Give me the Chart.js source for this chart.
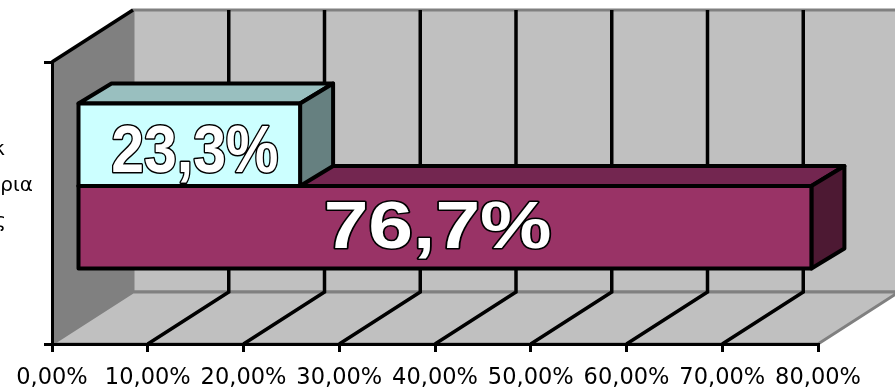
<!DOCTYPE html>
<html>
<head>
<meta charset="utf-8">
<style>
  html, body { margin: 0; padding: 0; background: #fff; overflow: hidden; }
  canvas { display: block; }
</style>
<script src="https://cdn.jsdelivr.net/npm/chart.js@4/dist/chart.umd.min.js"></script>
</head>
<body>
<canvas id="chart" width="895" height="391"></canvas>
<script>
const categories = [['Ο κ', 'Κριτήρια', 'τος']];
const shareLow = [23.3];
const shareHigh = [76.7];
const xTicks = [0, 10, 20, 30, 40, 50, 60, 70, 80];

const FONT_AXIS = 'DejaVu Sans';
const FONT_LABEL = 'Liberation Sans';

// depth of the fake 3D box and of the bars inside it
const WALL_DX = 81;
const WALL_DY = 52;
const BAR_DX = 25;
const BAR_DY = 17;
const BAR_DEPTH_X = 33;
const BAR_DEPTH_Y = 20;

function fillPoly(ctx, points, fill, stroke, width) {
  ctx.beginPath();
  points.forEach(([x, y], i) => (i ? ctx.lineTo(x, y) : ctx.moveTo(x, y)));
  ctx.closePath();
  if (fill) {
    ctx.fillStyle = fill;
    ctx.fill();
  }
  if (stroke) {
    ctx.strokeStyle = stroke;
    ctx.lineWidth = width;
    ctx.lineJoin = 'round';
    ctx.stroke();
  }
}

function frontFace(bar) {
  return {
    left: bar.base + BAR_DX,
    right: bar.x + BAR_DX,
    top: bar.y - bar.height / 2 - BAR_DY,
    bottom: bar.y + bar.height / 2 - BAR_DY,
  };
}

const box3d = {
  id: 'box3d',
  beforeDraw(chart) {
    const { ctx, chartArea: a, scales: { x } } = chart;
    const backLeft = a.left + WALL_DX;
    const backRight = a.right + WALL_DX;
    const backTop = a.top - WALL_DY;
    const backBottom = a.bottom - WALL_DY;

    ctx.save();
    fillPoly(ctx, [[backLeft, backTop], [backRight, backTop], [backRight, backBottom], [backLeft, backBottom]], '#c0c0c0', '#808080', 3);
    fillPoly(ctx, [[a.left, a.bottom], [backLeft, backBottom], [backRight, backBottom], [a.right, a.bottom]], '#c0c0c0', '#808080', 3);
    fillPoly(ctx, [[a.left, a.top], [backLeft, backTop], [backLeft, backBottom], [a.left, a.bottom]], '#808080');

    // grid runs over the floor and up the back wall
    ctx.strokeStyle = '#000';
    ctx.lineWidth = 3.5;
    ctx.lineJoin = 'miter';
    xTicks.slice(1, -1).forEach(tick => {
      const px = x.getPixelForValue(tick);
      ctx.beginPath();
      ctx.moveTo(px, a.bottom);
      ctx.lineTo(px + WALL_DX, backBottom);
      ctx.lineTo(px + WALL_DX, backTop);
      ctx.stroke();
    });

    // top edge of the side wall
    ctx.beginPath();
    ctx.moveTo(a.left, a.top);
    ctx.lineTo(backLeft, backTop);
    ctx.stroke();
    ctx.restore();
  },
};

const bars3d = {
  id: 'bars3d',
  beforeDatasetDraw(chart, args) {
    const { ctx } = chart;
    const dataset = chart.data.datasets[args.index];
    const { left, right, top, bottom } = frontFace(args.meta.data[0]);

    ctx.save();
    fillPoly(ctx, [[left, top], [left + BAR_DEPTH_X, top - BAR_DEPTH_Y], [right + BAR_DEPTH_X, top - BAR_DEPTH_Y], [right, top]], dataset.topColor, '#000', 4);
    fillPoly(ctx, [[right, top], [right + BAR_DEPTH_X, top - BAR_DEPTH_Y], [right + BAR_DEPTH_X, bottom - BAR_DEPTH_Y], [right, bottom]], dataset.sideColor, '#000', 4);
    ctx.translate(BAR_DX, -BAR_DY);
  },
  afterDatasetDraw(chart, args) {
    const { ctx } = chart;
    ctx.restore();
    const { left, right, top, bottom } = frontFace(args.meta.data[0]);
    ctx.save();
    fillPoly(ctx, [[left, top], [right, top], [right, bottom], [left, bottom]], null, '#000', 4);
    ctx.restore();
  },
  afterDatasetsDraw(chart) {
    const { ctx } = chart;
    chart.data.datasets.forEach((dataset, i) => {
      const bar = chart.getDatasetMeta(i).data[0];
      const text = dataset.data[0].toFixed(1).replace('.', ',') + '%';
      ctx.save();
      ctx.translate(bar.base + BAR_DX + (bar.x - bar.base) * dataset.labelAt, bar.y - BAR_DY + dataset.labelDy);
      ctx.scale(dataset.labelScale, 1);
      ctx.font = `bold ${dataset.labelSize}px "${FONT_LABEL}"`;
      ctx.textAlign = 'center';
      ctx.textBaseline = 'alphabetic';
      ctx.lineJoin = 'round';
      ctx.lineWidth = dataset.labelStroke;
      ctx.strokeStyle = '#000';
      ctx.strokeText(text, 0, 0);
      ctx.fillStyle = '#fff';
      ctx.fillText(text, 0, 0);
      ctx.restore();
    });
  },
};

new Chart(document.getElementById('chart'), {
  type: 'bar',
  data: {
    labels: categories,
    datasets: [
      {
        data: shareLow,
        backgroundColor: '#ccffff',
        topColor: '#99bfbf',
        sideColor: '#668080',
        labelSize: 67,
        labelScale: 0.88,
        labelAt: 0.525,
        labelDy: 27,
        labelStroke: 3,
      },
      {
        data: shareHigh,
        backgroundColor: '#993366',
        topColor: '#732650',
        sideColor: '#4d1933',
        labelSize: 67,
        labelScale: 1.2,
        labelAt: 0.49,
        labelDy: 21,
        labelStroke: 3,
      },
    ],
  },
  options: {
    indexAxis: 'y',
    responsive: false,
    animation: false,
    layout: { padding: { top: 62, right: 77, left: 0, bottom: 0 } },
    categoryPercentage: 0.585,
    barPercentage: 1,
    elements: { bar: { borderWidth: 0 } },
    plugins: { legend: { display: false }, tooltip: { enabled: false } },
    scales: {
      x: {
        min: 0,
        max: 80,
        afterFit: scale => { scale.height = 47; },
        afterBuildTicks: scale => { scale.ticks = xTicks.map(value => ({ value })); },
        grid: { drawOnChartArea: false, color: '#000', lineWidth: 3, tickLength: 8 },
        border: { color: '#000', width: 3 },
        ticks: {
          color: '#000',
          autoSkip: false,
          maxRotation: 0,
          padding: 13,
          font: { family: FONT_AXIS, size: 22.5 },
          callback: value => `${value.toFixed(2).replace('.', ',')}%`,
        },
      },
      y: {
        afterFit: scale => {
          scale.width = 52;
          scale.paddingTop = 0;
          scale.paddingBottom = 0;
        },
        grid: { drawOnChartArea: false, color: '#000', lineWidth: 3, tickLength: 8 },
        border: { color: '#000', width: 3 },
        ticks: {
          color: '#000',
          crossAlign: 'center',
          labelOffset: -17,
          padding: 11,
          font: { family: FONT_AXIS, size: 20, lineHeight: 1.8 },
        },
      },
    },
  },
  plugins: [box3d, bars3d],
});
</script>
</body>
</html>
